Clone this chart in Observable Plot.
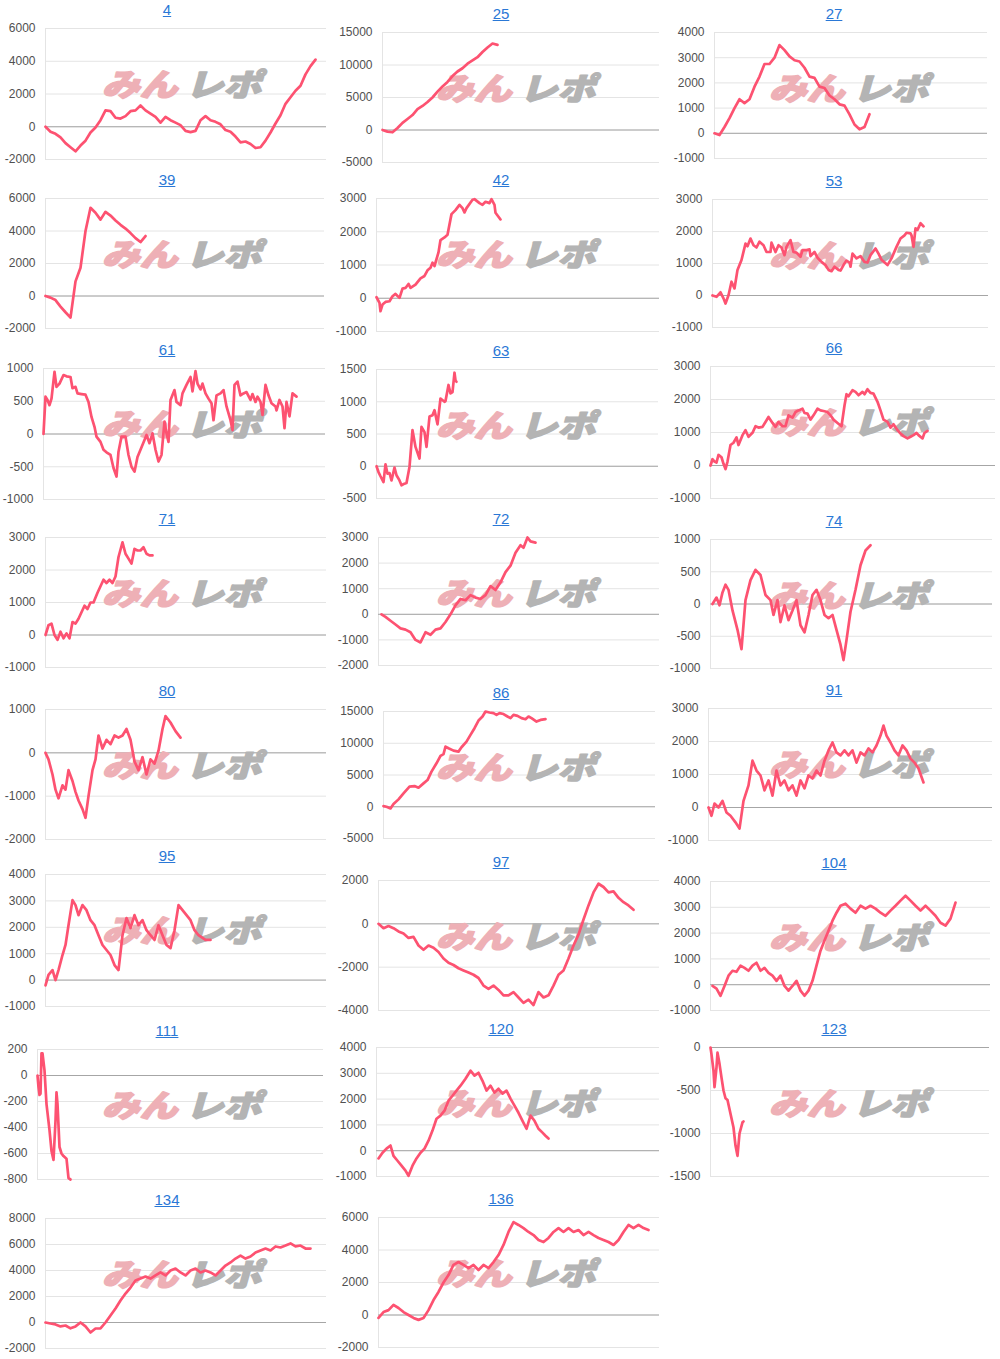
<!DOCTYPE html>
<html><head><meta charset="utf-8">
<script src="https://cdn.jsdelivr.net/npm/d3@7"></script>
<script src="https://cdn.jsdelivr.net/npm/@observablehq/plot@0.6"></script>
<style>
body{margin:0;background:#fff;}
#root{position:relative;width:1000px;height:1359px;overflow:hidden;font-family:Arial,"Liberation Sans",sans-serif;}
.title{position:absolute;width:120px;margin-left:-60px;text-align:center;font-size:15px;line-height:20px;color:#2a78d6;text-decoration:underline;}
#root svg{position:absolute;overflow:visible;}
</style></head><body><div id="root"></div>
<script>
// ---- data (x = position index along the run, y = cumulative difference) ----
const p4 = [0,-300,-430,-650,-1000,-1250,-1500,-1150,-850,-350,-50,400,1000,950,550,500,650,950,1000,1300,1000,800,600,250,600,400,250,100,-250,-330,-250,400,650,400,300,150,-200,-300,-600,-950,-900,-1050,-1300,-1250,-850,-350,200,700,1400,1800,2200,2500,3200,3700,4100];
const p25 = [0,-250,-350,300,1100,1700,2300,3200,3700,4300,5000,5900,6700,7400,8300,9000,9500,10200,10700,11200,12000,12700,13300,13100];
const p27 = [0,-70,250,600,1000,1350,1200,1350,1850,2250,2750,2750,3000,3500,3300,3050,2900,2850,2600,2250,2200,1850,1800,1500,1350,1150,1100,750,350,160,250,760];
const p39 = [0,-100,-250,-650,-1000,-1330,900,1740,4000,5430,5120,4700,5180,4950,4650,4380,4150,3870,3560,3320,3690];
const p42 = [[0,30],[3,-140],[4,-390],[6,-190],[9,-110],[13,-90],[16,60],[19,130],[23,10],[26,290],[29,310],[32,430],[34,310],[39,410],[44,600],[48,670],[51,840],[54,920],[56,1070],[58,970],[62,1380],[64,1750],[68,1830],[71,1910],[75,2530],[79,2650],[83,2810],[86,2710],[88,2580],[90,2710],[96,2960],[98,2980],[103,2860],[106,2810],[109,2900],[113,2860],[115,2980],[118,2810],[119,2570],[124,2370]];
const p53 = [[0,0],[4,-40],[8,100],[11,-90],[13,-250],[16,10],[19,430],[22,220],[25,800],[29,1110],[33,1620],[35,1540],[38,1780],[41,1570],[44,1500],[47,1680],[51,1570],[54,1360],[58,1360],[59,1650],[63,1360],[66,1570],[69,1500],[72,1260],[74,1520],[78,1730],[81,1360],[84,1340],[88,1210],[90,1420],[94,1420],[97,1440],[98,1230],[102,1360],[105,1180],[109,1050],[113,950],[116,800],[119,760],[122,900],[126,800],[128,780],[131,950],[134,1090],[137,1030],[138,900],[140,1310],[144,1160],[148,1230],[152,1050],[155,1030],[158,1260],[163,1470],[166,1310],[169,1120],[175,950],[179,1160],[184,1520],[188,1780],[192,1880],[194,1960],[198,1940],[199,1880],[201,1520],[203,2100],[205,2050],[208,2260],[211,2160]];
const p61 = [[0,0],[2,570],[4,520],[6,440],[8,540],[11,950],[13,720],[16,770],[20,900],[23,880],[27,870],[29,700],[32,720],[34,620],[38,610],[42,600],[45,490],[48,260],[51,110],[53,-40],[57,-120],[60,-240],[63,-280],[67,-320],[70,-520],[73,-650],[75,-270],[78,-40],[82,-40],[85,-320],[88,-500],[91,-575],[94,-350],[97,-240],[101,-90],[103,-15],[106,-140],[109,10],[112,-240],[115,-420],[118,-320],[121,190],[123,10],[125,-120],[127,520],[131,670],[133,490],[137,440],[139,620],[143,750],[147,870],[149,650],[152,960],[154,770],[157,680],[159,770],[162,620],[165,540],[168,470],[170,210],[173,590],[177,620],[180,670],[183,420],[187,210],[189,60],[191,750],[194,800],[197,590],[200,620],[203,640],[207,520],[209,610],[212,490],[214,570],[217,490],[219,290],[222,750],[225,590],[228,470],[232,420],[233,360],[236,520],[239,420],[241,90],[243,490],[246,270],[249,620],[253,570]];
const p63 = [[0,0],[2,-90],[4,-155],[7,-245],[9,30],[11,-115],[13,-105],[15,-220],[18,-20],[20,-140],[23,-220],[25,-295],[28,-270],[30,-260],[33,-10],[36,560],[39,300],[43,120],[45,610],[48,530],[50,300],[53,770],[56,790],[58,870],[61,650],[64,1050],[68,1000],[69,1010],[72,1260],[74,1130],[76,1150],[78,1450],[79,1330],[80,1310]];
const p66 = [[0,0],[2,190],[4,120],[6,90],[8,320],[11,250],[13,50],[15,-110],[17,120],[20,620],[23,690],[26,850],[28,620],[32,920],[35,1070],[38,870],[42,990],[45,1190],[48,1150],[52,1170],[55,1320],[58,1470],[62,1290],[65,1170],[68,1320],[72,1190],[75,1190],[78,1520],[82,1450],[85,1620],[88,1670],[92,1720],[94,1590],[97,1570],[100,1390],[103,1520],[107,1720],[110,1670],[113,1650],[117,1620],[120,1520],[123,1390],[127,1290],[131,1190],[134,1820],[136,2160],[138,2100],[142,2280],[145,2230],[148,2130],[152,2230],[154,2160],[157,2310],[160,2200],[163,2180],[167,1930],[170,1670],[173,1390],[177,1320],[180,1150],[183,1250],[187,1070],[190,970],[193,890],[197,820],[200,870],[203,920],[206,990],[208,920],[212,820],[214,990],[217,1050]];
const p71 = [[0,0],[3,300],[6,350],[9,0],[12,-150],[15,100],[18,-100],[21,50],[24,-100],[27,400],[30,350],[33,500],[36,700],[39,900],[42,800],[45,1000],[48,1000],[52,1300],[55,1500],[58,1700],[61,1600],[64,1700],[67,1600],[70,1800],[73,2400],[77,2850],[80,2500],[83,2350],[86,2200],[89,2650],[92,2600],[95,2600],[98,2700],[101,2500],[104,2450],[107,2450]];
const p72 = [[3,0],[7,-100],[12,-250],[17,-400],[22,-550],[27,-600],[32,-700],[37,-1000],[42,-1100],[47,-700],[52,-800],[57,-600],[62,-550],[67,-300],[72,0],[77,350],[82,600],[87,550],[92,750],[97,650],[102,600],[107,750],[112,1100],[117,950],[122,1250],[127,1650],[132,1900],[137,2400],[142,2700],[145,2600],[149,3000],[152,2850],[157,2800]];
const p74 = [[2,0],[6,100],[9,-20],[12,180],[15,300],[18,220],[22,-100],[27,-400],[31,-700],[35,60],[40,370],[45,530],[50,450],[55,140],[60,60],[63,-170],[67,60],[70,-280],[74,-20],[78,-250],[82,-100],[86,60],[90,-330],[94,-440],[98,-170],[102,140],[106,220],[110,60],[114,-170],[118,-220],[122,-170],[126,-400],[130,-630],[133,-870],[136,-560],[140,-120],[145,220],[150,600],[155,830],[160,910]];
const p80 = [[0,0],[3,-150],[7,-500],[10,-850],[13,-1050],[17,-750],[20,-850],[23,-400],[27,-650],[30,-900],[33,-1100],[37,-1300],[40,-1500],[43,-1000],[47,-400],[50,-150],[53,400],[57,100],[61,300],[65,200],[69,400],[73,350],[77,400],[81,550],[85,300],[89,-200],[93,-400],[97,-100],[101,-500],[105,-150],[109,-250],[113,50],[117,550],[120,850],[125,700],[130,500],[135,350]];
const p86 = [[0,100],[3,0],[7,-260],[10,420],[15,1160],[20,2100],[26,3160],[31,3260],[35,3000],[40,3680],[44,4200],[48,5530],[53,6840],[57,8000],[60,8300],[62,9470],[65,9210],[70,8840],[75,8680],[78,9370],[83,10260],[87,11320],[91,12370],[95,13580],[99,14210],[102,15000],[106,14840],[110,14740],[113,14470],[116,14740],[120,14600],[124,14210],[127,13950],[130,14470],[134,14310],[138,13950],[142,13790],[145,14210],[148,13950],[153,13420],[157,13680],[162,13790]];
const p91 = [[0,0],[3,-250],[6,120],[10,0],[14,200],[18,-150],[22,-250],[27,-450],[31,-640],[35,200],[40,670],[44,1420],[48,1120],[52,970],[56,520],[60,820],[64,360],[68,1120],[72,670],[76,820],[80,520],[84,670],[88,360],[92,820],[96,580],[100,970],[104,880],[108,1120],[112,970],[116,1420],[120,1730],[124,1970],[128,1670],[132,1580],[136,1730],[140,1580],[144,1730],[148,1360],[152,1670],[156,1580],[160,1790],[164,1670],[168,1880],[172,2180],[175,2480],[178,2180],[182,1970],[186,1730],[190,1580],[194,1880],[198,1730],[202,1480],[206,1360],[210,1180],[215,760]];
const p95 = [[0,-200],[3,200],[7,380],[10,0],[13,380],[17,950],[20,1330],[23,2080],[27,3030],[30,2840],[33,2460],[37,2840],[41,2650],[45,2270],[49,2080],[53,1700],[57,1330],[61,1140],[65,950],[69,570],[73,380],[77,1700],[81,2350],[85,1970],[89,2460],[93,2080],[97,2270],[101,1890],[105,1700],[109,1520],[113,2080],[117,1700],[121,1330],[125,1210],[129,1890],[133,2840],[137,2650],[141,2460],[145,2270],[149,1890],[153,1700],[160,1520],[165,1520]];
const p97 = [0,-200,-100,-200,-350,-450,-650,-600,-1000,-1200,-1000,-1100,-1300,-1600,-1800,-1900,-2050,-2150,-2250,-2350,-2500,-2850,-3000,-2850,-3050,-3300,-3300,-3150,-3400,-3650,-3500,-3750,-3150,-3400,-3300,-2850,-2350,-2150,-1600,-1000,-500,200,850,1450,1850,1700,1450,1500,1200,1000,850,650];
const p104 = [[2,-50],[6,-150],[10,-430],[14,-50],[18,350],[22,540],[26,500],[30,740],[34,650],[38,540],[42,740],[46,850],[50,540],[54,650],[58,460],[62,350],[66,150],[70,350],[74,-50],[78,-230],[82,-50],[86,150],[90,-230],[94,-430],[98,-230],[102,150],[106,740],[110,1320],[114,1710],[118,2090],[122,2480],[126,2790],[130,3060],[135,3140],[140,2950],[145,2790],[150,3060],[155,2950],[160,3060],[165,2950],[170,2790],[175,2670],[180,2870],[185,3060],[190,3260],[195,3450],[200,3260],[205,3060],[210,2870],[215,3060],[220,2870],[225,2670],[230,2400],[235,2290],[240,2560],[245,3180]];
const p111 = [[0,0],[1,-90],[2,-150],[3,-140],[4,170],[5,170],[7,40],[9,-220],[12,-420],[14,-580],[16,-650],[18,-350],[19,-130],[20,-220],[22,-550],[24,-600],[26,-620],[29,-640],[31,-790],[33,-800]];
const p120 = [[2,-300],[6,-80],[10,80],[14,200],[17,-200],[21,-390],[25,-580],[29,-770],[32,-970],[36,-580],[40,-300],[44,-80],[48,80],[52,390],[56,780],[60,1240],[64,1360],[68,1550],[72,1940],[76,2130],[80,2330],[84,2520],[89,2790],[94,3100],[98,2910],[102,3020],[106,2710],[110,2330],[114,2520],[118,2250],[122,2400],[126,2210],[130,2330],[134,2020],[138,1750],[142,1470],[146,1160],[150,850],[154,1360],[158,1160],[162,850],[166,700],[169,580],[172,470]];
const p123 = [[0,0],[1,-80],[3,-270],[4,-460],[6,-230],[7,-60],[9,-190],[11,-350],[13,-500],[15,-590],[17,-610],[20,-770],[23,-930],[25,-1140],[27,-1260],[29,-1000],[32,-870],[33,-860]];
const p134 = [0,-80,-150,-300,-230,-450,-300,0,-300,-770,-460,-460,0,540,1080,1690,2230,2690,3230,3380,3540,3380,3620,3850,3620,4000,4150,3850,3620,4000,4150,3850,4000,3850,3620,4000,4380,4620,4920,5150,4920,5080,5380,5540,5690,5540,5850,5770,5920,6080,5850,5920,5690,5690];
const p136 = [-180,180,300,620,430,180,0,-180,-300,-180,300,920,1420,2000,2460,3080,3260,3080,2890,3080,2770,3080,2890,3260,3690,4310,5110,5720,5540,5350,5110,4920,4620,4490,4740,5110,5350,5110,5350,5110,5230,4920,5110,4920,4740,4620,4490,4310,4620,5110,5540,5350,5540,5350,5230];

const panelIds = ["4","25","27","39","42","53","61","63","66","71","72","74","80","86","91","95","97","104","111","120","123","134","136"];
const series = {"4":p4,"25":p25,"27":p27,"39":p39,"42":p42,"53":p53,"61":p61,"63":p63,"66":p66,"71":p71,"72":p72,"74":p74,"80":p80,"86":p86,"91":p91,"95":p95,"97":p97,"104":p104,"111":p111,"120":p120,"123":p123,"134":p134,"136":p136};
const yTicks = {
  "4":[-2000,0,2000,4000,6000], "25":[-5000,0,5000,10000,15000], "27":[-1000,0,1000,2000,3000,4000],
  "39":[-2000,0,2000,4000,6000], "42":[-1000,0,1000,2000,3000], "53":[-1000,0,1000,2000,3000],
  "61":[-1000,-500,0,500,1000], "63":[-500,0,500,1000,1500], "66":[-1000,0,1000,2000,3000],
  "71":[-1000,0,1000,2000,3000], "72":[-2000,-1000,0,1000,2000,3000], "74":[-1000,-500,0,500,1000],
  "80":[-2000,-1000,0,1000], "86":[-5000,0,5000,10000,15000], "91":[-1000,0,1000,2000,3000],
  "95":[-1000,0,1000,2000,3000,4000], "97":[-4000,-2000,0,2000], "104":[-1000,0,1000,2000,3000,4000],
  "111":[-800,-600,-400,-200,0,200], "120":[-1000,0,1000,2000,3000,4000], "123":[-1500,-1000,-500,0],
  "134":[-2000,0,2000,4000,6000,8000], "136":[-2000,0,2000,4000,6000]
};
const watermark = ["みん","レポ"];

// ---- layout: [column, top gridline y, bottom gridline y, axis x, right x] ----
const layout = {
  "4":[0,28,159,45,326], "25":[1,32,162,382,659], "27":[2,32,158,714,987],
  "39":[0,198,328,45,324], "42":[1,198,331,376,659], "53":[2,199,327,712,988],
  "61":[0,368,499,43,325], "63":[1,369,498,376,658], "66":[2,366,498,710,995],
  "71":[0,537,667,45,326], "72":[1,537,665,378,659], "74":[2,539,668,710,992],
  "80":[0,709,839,45,326], "86":[1,711,838,383,655], "91":[2,708,840,708,992],
  "95":[0,874,1006,45,326], "97":[1,880,1010,378,659], "104":[2,881,1010,710,990],
  "111":[0,1049,1179,37,323], "120":[1,1047,1176,376,659], "123":[2,1047,1176,710,989],
  "134":[0,1218,1348,45,326], "136":[1,1217,1347,378,659]
};
const colCenter = [167, 501, 834];

const root = document.getElementById("root");
for (const id of panelIds) {
  const [col, T, B, L, R] = layout[id];
  const raw = series[id];
  const pts = typeof raw[0] === "number" ? raw.map((y, i) => [i * 5, y]) : raw;
  const ticks = yTicks[id];
  const w = R - L;
  const wmX = colCenter[col] + 17 - L;
  const wmStyle = {text: d => d, frameAnchor: "top-left", dy: 58, lineAnchor: "middle", fontSize: 31, fontWeight: 900, fontFamily: "'Noto Sans CJK JP', sans-serif", strokeWidth: 1.6, strokeLinejoin: "round"};
  const plot = Plot.plot({
    width: w + 56, height: B - T + 20,
    marginLeft: 50, marginRight: 6, marginTop: 10, marginBottom: 10,
    style: {fontFamily: "Arial, 'Liberation Sans', sans-serif", fontSize: "12px", color: "#505050", background: "transparent", overflow: "visible"},
    x: {domain: [0, w], axis: null},
    y: {domain: d3.extent(ticks), ticks: ticks, tickSize: 0, tickPadding: 10, tickFormat: d => String(d), label: null},
    marks: [
      Plot.ruleY(ticks, {stroke: "#e4e4e4", strokeWidth: 1}),
      Plot.ruleX([0], {stroke: "#e4e4e4", strokeWidth: 1}),
      Plot.ruleY([0], {stroke: "#a6a6a6", strokeWidth: 1}),
      Plot.text([watermark[0]], {...wmStyle, dx: wmX - 4, textAnchor: "end", fill: "#eeb0b6", stroke: "#eeb0b6"}),
      Plot.text([watermark[1]], {...wmStyle, dx: wmX + 4, textAnchor: "start", fill: "#b4b4b4", stroke: "#b4b4b4"}),
      Plot.line(pts, {x: d => d[0], y: d => d[1], stroke: "#fd5271", strokeWidth: 2.7, strokeLinejoin: "round", strokeLinecap: "round"})
    ]
  });
  plot.querySelectorAll("text").forEach(t => {
    if (!watermark.includes(t.textContent)) return;
    let tr = t.getAttribute("transform");
    if (!tr) {
      const x = +t.getAttribute("x") || 0, y = +t.getAttribute("y") || 0;
      t.removeAttribute("x"); t.removeAttribute("y");
      tr = `translate(${x},${y})`;
    }
    t.setAttribute("transform", tr + " skewX(-16) scale(1.22,1)");
  });
  plot.style.left = (L - 50) + "px";
  plot.style.top = (T - 10) + "px";
  root.appendChild(plot);
  const title = document.createElement("div");
  title.className = "title";
  title.textContent = id;
  title.style.left = colCenter[col] + "px";
  title.style.top = (T - 28.5) + "px";
  root.appendChild(title);
}
</script></body></html>
